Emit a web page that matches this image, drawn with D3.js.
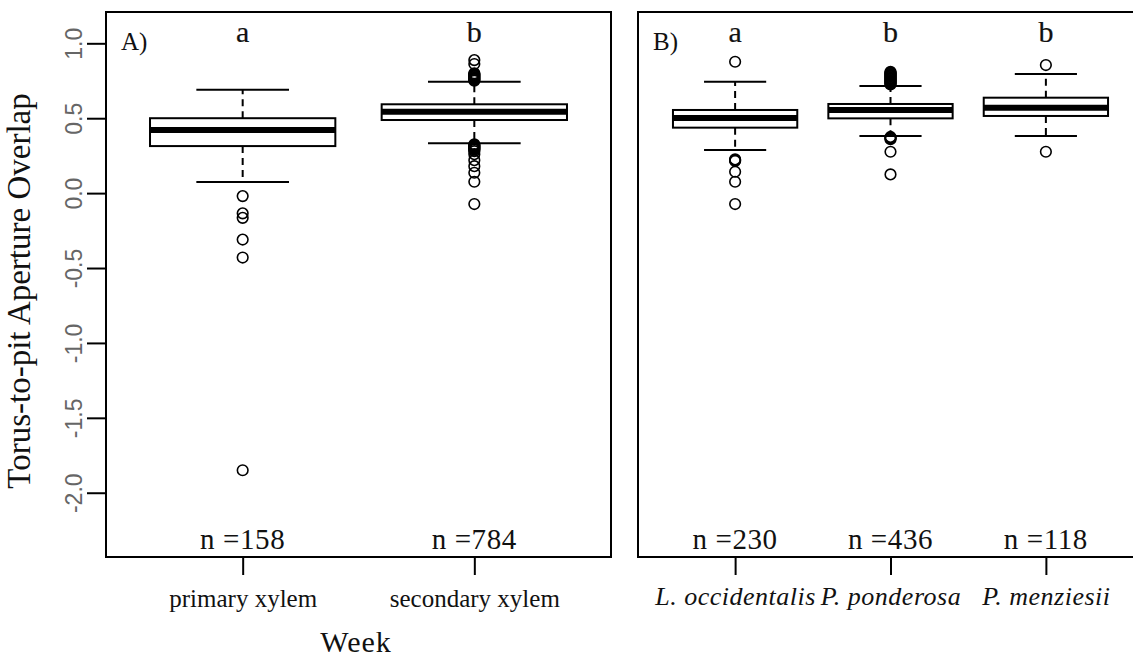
<!DOCTYPE html>
<html>
<head>
<meta charset="utf-8">
<script src="https://cdn.jsdelivr.net/npm/d3@7/dist/d3.min.js"></script>
<style>
  html, body { margin: 0; padding: 0; background: #fff; }
  svg { display: block; }
  .serif { font-family: "Liberation Serif", "Times New Roman", serif; fill: #111; }
</style>
</head>
<body>
<svg id="chart" width="1133" height="660"></svg>
<script>
// ---- Panel A: xylem type ----
const groupsA = ["primary xylem", "secondary xylem"];
const lettersA = ["a", "b"];
const countsA = [158, 784];
const whiskerLowA = [0.074, 0.333];
const q1A = [0.314, 0.488];
const medianA = [0.421, 0.543];
const q3A = [0.500, 0.593];
const whiskerHighA = [0.690, 0.744];
const outliersA = [
  [-0.02, -0.135, -0.165, -0.31, -0.43, -1.85],
  [0.888, 0.862, 0.80, 0.795, 0.79, 0.785, 0.78, 0.775, 0.77, 0.765, 0.76, 0.755, 0.75,
   0.325, 0.32, 0.315, 0.31, 0.305, 0.30, 0.295, 0.29, 0.28, 0.26, 0.22, 0.18, 0.136, 0.076, -0.073]
];

// ---- Panel B: species ----
const groupsB = ["L. occidentalis", "P. ponderosa", "P. menziesii"];
const lettersB = ["a", "b", "b"];
const countsB = [230, 436, 118];
const whiskerLowB = [0.288, 0.381, 0.381];
const q1B = [0.437, 0.499, 0.515];
const medianB = [0.502, 0.555, 0.570];
const q3B = [0.555, 0.595, 0.637];
const whiskerHighB = [0.744, 0.715, 0.795];
const outliersB = [
  [0.877, 0.225, 0.22, 0.215, 0.143, 0.076, -0.073],
  [0.81, 0.805, 0.80, 0.795, 0.79, 0.785, 0.78, 0.775, 0.77, 0.765, 0.76, 0.755, 0.75, 0.745,
   0.74, 0.735, 0.73, 0.725, 0.375, 0.37, 0.365, 0.36, 0.276, 0.125],
  [0.855, 0.276]
];

// ---- shared axis ----
const yTicks = [-2.0, -1.5, -1.0, -0.5, 0.0, 0.5, 1.0];
const yTitle = "Torus-to-pit Aperture Overlap";
const xTitle = "Week";

const svg = d3.select("#chart");
const plotTop = 12, plotBottom = 557;
const y = d3.scaleLinear().domain([-2.429, 1.209]).range([plotBottom, plotTop]);

function panel(opts) {
  const { left, right, domain, groups, letters, counts, lo, q1, med, q3, hi, outs, tag, italic } = opts;
  const x = d3.scaleLinear().domain(domain).range([left, right]);
  const g = svg.append("g");
  const unit = x(2) - x(1);
  const bw = unit * 0.8;

  groups.forEach((name, i) => {
    const cx = x(i + 1);
    // whiskers (dashed)
    g.append("line").attr("x1", cx).attr("x2", cx).attr("y1", y(q3[i])).attr("y2", y(hi[i]))
      .attr("stroke", "#000").attr("stroke-width", 2).attr("stroke-dasharray", "7,5");
    g.append("line").attr("x1", cx).attr("x2", cx).attr("y1", y(q1[i])).attr("y2", y(lo[i]))
      .attr("stroke", "#000").attr("stroke-width", 2).attr("stroke-dasharray", "7,5");
    // caps
    [lo[i], hi[i]].forEach(v => {
      g.append("line").attr("x1", cx - bw / 4).attr("x2", cx + bw / 4)
        .attr("y1", y(v)).attr("y2", y(v)).attr("stroke", "#000").attr("stroke-width", 2);
    });
    // box
    g.append("rect").attr("x", cx - bw / 2).attr("width", bw)
      .attr("y", y(q3[i])).attr("height", y(q1[i]) - y(q3[i]))
      .attr("fill", "#fff").attr("stroke", "#000").attr("stroke-width", 2);
    // median
    g.append("line").attr("x1", cx - bw / 2).attr("x2", cx + bw / 2)
      .attr("y1", y(med[i])).attr("y2", y(med[i])).attr("stroke", "#000").attr("stroke-width", 6);
    // outliers
    g.selectAll(null).data(outs[i]).enter().append("circle")
      .attr("cx", cx).attr("cy", d => y(d)).attr("r", 5.3)
      .attr("fill", "none").attr("stroke", "#000").attr("stroke-width", 1.6);
    // group letter
    g.append("text").attr("class", "serif").attr("x", cx).attr("y", 42)
      .attr("text-anchor", "middle").attr("font-size", 30).attr("stroke", "#111").attr("stroke-width", 0.2)
      .text(letters[i]);
    // sample size
    g.append("text").attr("class", "serif").attr("x", cx).attr("y", 549)
      .attr("text-anchor", "middle").attr("font-size", 29).attr("letter-spacing", 0.6)
      .text("n =" + counts[i]);
  });

  // frame
  g.append("rect").attr("x", left).attr("y", plotTop).attr("width", right - left).attr("height", plotBottom - plotTop)
    .attr("fill", "none").attr("stroke", "#000").attr("stroke-width", 2);

  // x axis
  const xa = d3.axisBottom(x).tickValues(groups.map((d, i) => i + 1))
    .tickFormat((d, i) => groups[i]).tickSize(18).tickPadding(8);
  const ax = g.append("g").attr("transform", `translate(0,${plotBottom})`).call(xa);
  ax.select(".domain").remove();
  ax.selectAll(".tick line").attr("stroke", "#000").attr("stroke-width", 2);
  ax.selectAll(".tick text").attr("class", "serif")
    .attr("font-size", italic ? 26 : 25).attr("font-style", italic ? "italic" : "normal")
    .attr("letter-spacing", italic ? 0.5 : 0)
    .attr("dy", italic ? "0.85em" : "0.95em").attr("fill", "#111");

  // panel tag
  g.append("text").attr("class", "serif").attr("x", left + 15).attr("y", 50)
    .attr("font-size", 25).text(tag);
  return x;
}

panel({
  left: 106, right: 611, domain: [0.41, 2.59], groups: groupsA, letters: lettersA, counts: countsA,
  lo: whiskerLowA, q1: q1A, med: medianA, q3: q3A, hi: whiskerHighA, outs: outliersA, tag: "A)", italic: false
});
panel({
  left: 638, right: 1143, domain: [0.375, 3.625], groups: groupsB, letters: lettersB, counts: countsB,
  lo: whiskerLowB, q1: q1B, med: medianB, q3: q3B, hi: whiskerHighB, outs: outliersB, tag: "B)", italic: true
});

// y axis on panel A (plain hyphen for negatives)
const ya = d3.axisLeft(y).tickValues(yTicks).tickFormat(d => d.toFixed(1)).tickSize(19).tickPadding(6);
const ay = svg.append("g").attr("transform", "translate(106,0)").call(ya);
ay.select(".domain").remove();
ay.selectAll(".tick line").attr("stroke", "#000").attr("stroke-width", 2);
ay.selectAll(".tick text")
  .attr("font-family", "'Liberation Sans', Arial, sans-serif").attr("font-size", 23).attr("fill", "#666")
  .attr("x", 0).attr("dy", 0).attr("text-anchor", "middle")
  .attr("transform", "translate(-24,0) rotate(-90)");

// titles
svg.append("text").attr("class", "serif").attr("transform", "translate(30,291) rotate(-90)")
  .attr("text-anchor", "middle").attr("font-size", 33).text(yTitle);
svg.append("text").attr("class", "serif").attr("x", 356).attr("y", 652)
  .attr("text-anchor", "middle").attr("font-size", 30).attr("letter-spacing", 1).text(xTitle);
</script>
</body>
</html>
